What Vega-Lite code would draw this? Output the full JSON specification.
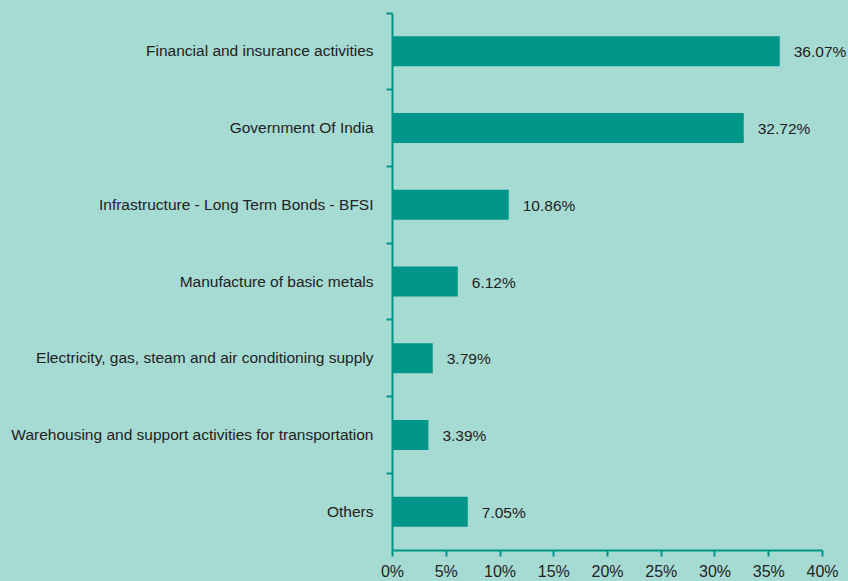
{
  "$schema": "https://vega.github.io/schema/vega-lite/v6.json",
  "autosize": {"type": "none"},
  "width": 430,
  "height": 537,
  "padding": {"left": 392, "top": 13, "right": 26, "bottom": 31},
  "background": "#a6dbd3",
  "config": {
    "view": {"stroke": null},
    "font": "Liberation Sans"
  },
  "data": {
    "values": [
      {"sector": "Financial and insurance activities", "value": 0.3607},
      {"sector": "Government Of India", "value": 0.3272},
      {"sector": "Infrastructure - Long Term Bonds - BFSI", "value": 0.1086},
      {"sector": "Manufacture of basic metals", "value": 0.0612},
      {"sector": "Electricity, gas, steam and air conditioning supply", "value": 0.0379},
      {"sector": "Warehousing and support activities for transportation", "value": 0.0339},
      {"sector": "Others", "value": 0.0705}
    ]
  },
  "encoding": {
    "y": {
      "field": "sector",
      "type": "nominal",
      "sort": null,
      "title": null,
      "scale": {"paddingInner": 0, "paddingOuter": 0},
      "axis": {
        "bandPosition": 0,
        "domainColor": "#009688",
        "domainWidth": 2,
        "tickColor": "#009688",
        "tickWidth": 2,
        "tickSize": 6,
        "labelPadding": 13,
        "labelFontSize": 15.5,
        "labelColor": "#222222",
        "labelLimit": 400,
        "grid": false
      }
    },
    "x": {
      "field": "value",
      "type": "quantitative",
      "title": null,
      "scale": {"domain": [0, 0.4], "nice": false},
      "axis": {
        "format": ".0%",
        "values": [0, 0.05, 0.1, 0.15, 0.2, 0.25, 0.3, 0.35, 0.4],
        "domainColor": "#009688",
        "domainWidth": 2,
        "tickColor": "#009688",
        "tickWidth": 2,
        "tickSize": 6,
        "labelPadding": 7,
        "labelFontSize": 16,
        "labelColor": "#222222",
        "labelFlush": false,
        "grid": false
      }
    }
  },
  "layer": [
    {"mark": {"type": "bar", "color": "#00968a", "height": 30}},
    {
      "mark": {"type": "text", "align": "left", "dx": 14, "dy": 1, "fontSize": 15.5, "color": "#222222"},
      "encoding": {"text": {"field": "value", "format": ".2%"}}
    }
  ]
}
